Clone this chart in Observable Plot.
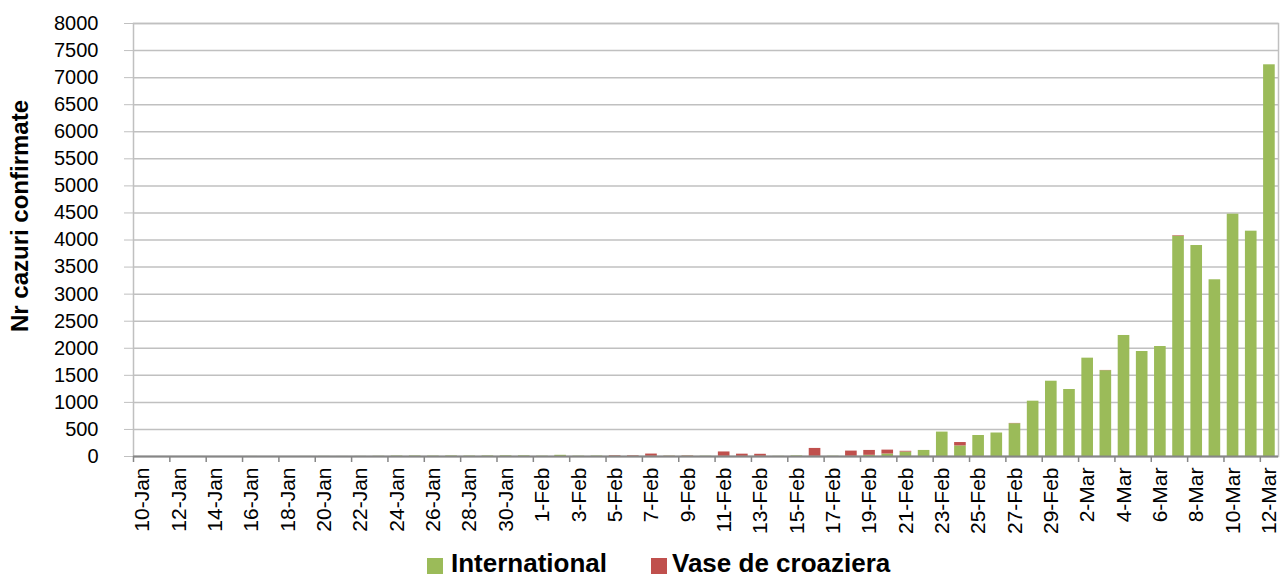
<!DOCTYPE html>
<html><head><meta charset="utf-8">
<script src="https://cdn.jsdelivr.net/npm/d3@7"></script>
<script src="https://cdn.jsdelivr.net/npm/@observablehq/plot@0.6"></script>
<style>
body{margin:0;background:#fff;font-family:"Liberation Sans",Arial,sans-serif;}
#legend{position:relative;height:36px;width:1283px;}
.sw{position:absolute;top:18px;width:16px;height:16px;}
.lab{position:absolute;top:12px;font-weight:bold;font-size:26px;line-height:22px;color:#000;white-space:nowrap;}
</style></head><body>
<div id="chart"></div>
<div id="legend"></div>
<script>
const dates = ["10-Jan","11-Jan","12-Jan","13-Jan","14-Jan","15-Jan","16-Jan","17-Jan","18-Jan","19-Jan",
"20-Jan","21-Jan","22-Jan","23-Jan","24-Jan","25-Jan","26-Jan","27-Jan","28-Jan","29-Jan","30-Jan","31-Jan",
"1-Feb","2-Feb","3-Feb","4-Feb","5-Feb","6-Feb","7-Feb","8-Feb","9-Feb","10-Feb","11-Feb","12-Feb","13-Feb",
"14-Feb","15-Feb","16-Feb","17-Feb","18-Feb","19-Feb","20-Feb","21-Feb","22-Feb","23-Feb","24-Feb","25-Feb",
"26-Feb","27-Feb","28-Feb","29-Feb","1-Mar","2-Mar","3-Mar","4-Mar","5-Mar","6-Mar","7-Mar","8-Mar","9-Mar",
"10-Mar","11-Mar","12-Mar"];
const international = [0,0,0,1,0,0,1,0,0,1,
2,1,2,4,8,9,7,10,8,10,12,12,
6,22,6,8,5,4,4,5,6,5,4,3,4,
3,10,4,5,5,22,46,82,112,451,196,388,
434,606,1022,1391,1238,1817,1586,2236,1940,2032,4070,3898,3265,
4477,4163,7237];
const cruise = [0,0,0,0,0,0,0,0,0,0,
0,0,0,0,0,0,0,0,0,0,0,0,
0,0,0,0,10,10,41,3,6,0,80,40,37,
0,0,145,0,95,90,72,14,0,0,62,0,
0,5,0,0,0,0,4,0,0,0,10,0,0,
0,0,0];
const seriesNames = ["International","Vase de croaziera"];
const seriesColors = ["#9BBB59","#C0504D"];
const yTicks = d3.range(0, 8001, 500);

const rows = dates.flatMap((d, i) => [
  {i, series: seriesNames[0], y1: 0, y2: international[i]},
  {i, series: seriesNames[1], y1: international[i], y2: international[i] + cruise[i]}
]);
const labelIdx = dates.map((d, i) => i).filter(i => i % 2 === 0);
const tickBounds = labelIdx.map(i => i - 0.5);

const chart = Plot.plot({
  width: 1283, height: 540,
  marginLeft: 133, marginRight: 5, marginTop: 23, marginBottom: 84,
  style: {fontFamily: "'Liberation Sans', Arial, sans-serif", background: "#fff", color: "#000"},
  x: {type: "linear", domain: [-0.5, dates.length - 0.5]},
  y: {domain: [0, 8000]},
  color: {domain: seriesNames, range: seriesColors},
  marks: [
    Plot.gridY({ticks: yTicks, stroke: "#c0c0c0", strokeOpacity: 1, strokeWidth: 1.5}),
    Plot.frame({stroke: "#c0c0c0", strokeWidth: 1.5}),
    Plot.axisY({ticks: yTicks, tickSize: 9, tickPadding: 26, fontSize: 20, stroke: "#c0c0c0", tickFormat: d => String(d), label: null}),
    Plot.rectY(rows, {x1: d => d.i - 0.32, x2: d => d.i + 0.32, y1: "y1", y2: "y2", fill: "series"}),
    Plot.ruleY([0], {stroke: "#868686", strokeWidth: 2}),
    Plot.axisX({ticks: tickBounds, tickSize: 6, tickFormat: () => "", stroke: "#868686", strokeWidth: 1.5, label: null}),
    Plot.axisX({ticks: labelIdx, tickSize: 0, tickPadding: 11, tickRotate: -90, fontSize: 21, tickFormat: i => dates[i], label: null}),
    Plot.text(["Nr cazuri confirmate"], {frameAnchor: "left", rotate: -90, textAnchor: "middle", dx: -113, dy: -24, fontSize: 24, fontWeight: "bold", fill: "#000"})
  ]
});
document.getElementById("chart").appendChild(chart);

const legend = document.getElementById("legend");
const legendX = [[427, 451], [651, 672]];
seriesNames.forEach((name, k) => {
  const sw = document.createElement("span");
  sw.className = "sw"; sw.style.left = legendX[k][0] + "px"; sw.style.background = seriesColors[k];
  const lab = document.createElement("span");
  lab.className = "lab"; lab.style.left = legendX[k][1] + "px"; lab.textContent = name;
  legend.appendChild(sw); legend.appendChild(lab);
});
</script>
</body></html>
